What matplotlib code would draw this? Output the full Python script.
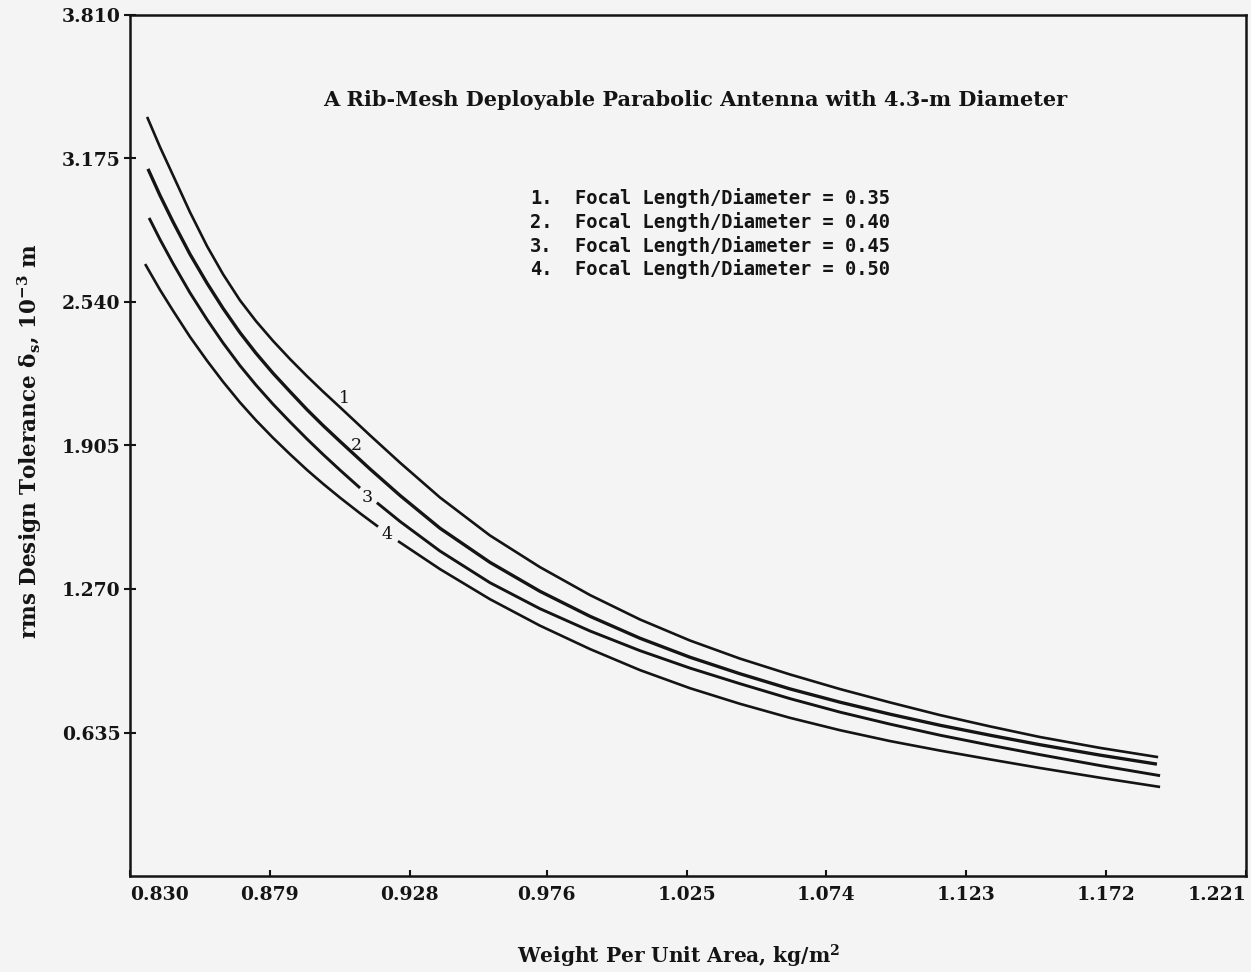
import numpy as np
import matplotlib
matplotlib.use("Agg")
import matplotlib.pyplot as plt

# Valores (x en kg/m^2, y en 10^-3 m)
# np.nan marca el hueco donde va la etiqueta de la curva
x1 = [0.8360, 0.8405, 0.8451, 0.8510, 0.8570, 0.8626, 0.8685, 0.8741, 0.8801, 0.8861,
      0.8920, 0.8976, 0.9036, 0.9141, 0.9246, 0.9386, 0.9561, 0.9736, 0.9912, 1.0087,
      1.0262, 1.0437, 1.0612, 1.0788, 1.0963, 1.1138, 1.1313, 1.1488, 1.1698, 1.1902]
y1 = [3.359, 3.226, 3.100, 2.938, 2.787, 2.663, 2.548, 2.456, 2.368, 2.287,
      2.212, 2.144, 2.074, 1.950, 1.829, 1.675, 1.507, 1.367, 1.243, 1.135,
      1.042, 0.962, 0.892, 0.827, 0.768, 0.712, 0.662, 0.615, 0.567, 0.526]

x2 = [0.8363, 0.8405, 0.8451, 0.8510, 0.8570, 0.8626, 0.8685, 0.8741, 0.8801, 0.8861,
      0.8920, 0.8976, 0.9036, 0.9141, 0.9246, 0.9386, 0.9561, 0.9736, 0.9912, 1.0087,
      1.0262, 1.0437, 1.0612, 1.0788, 1.0963, 1.1138, 1.1313, 1.1488, 1.1698, 1.1898]
y2 = [3.129, 3.012, 2.894, 2.752, 2.623, 2.512, 2.405, 2.314, 2.225, 2.143,
      2.064, 1.994, 1.923, 1.801, 1.684, 1.539, 1.388, 1.260, 1.149, 1.052,
      0.968, 0.895, 0.828, 0.769, 0.716, 0.667, 0.623, 0.581, 0.535, 0.495]

x3 = [0.8367, 0.8405, 0.8451, 0.8510, 0.8570, 0.8626, 0.8685, 0.8741, 0.8801, 0.8861,
      0.8920, 0.8976, 0.9036, 0.9106, np.nan, 0.9165, 0.9246, 0.9386, 0.9561, 0.9736,
      0.9912, 1.0087, 1.0262, 1.0437, 1.0612, 1.0788, 1.0963, 1.1138, 1.1313, 1.1488,
      1.1698, 1.1909]
y3 = [2.912, 2.817, 2.710, 2.581, 2.462, 2.359, 2.259, 2.173, 2.088, 2.009,
      1.934, 1.866, 1.796, 1.717, np.nan, 1.652, 1.569, 1.438, 1.298, 1.183,
      1.084, 0.997, 0.920, 0.851, 0.785, 0.725, 0.672, 0.623, 0.579, 0.537,
      0.489, 0.444]

x4 = [0.8353, 0.8405, 0.8451, 0.8510, 0.8570, 0.8626, 0.8685, 0.8741, 0.8801, 0.8861,
      0.8920, 0.8976, 0.9036, 0.9106, 0.9169, np.nan, 0.9239, 0.9386, 0.9561, 0.9736,
      0.9912, 1.0087, 1.0262, 1.0437, 1.0612, 1.0788, 1.0963, 1.1138, 1.1313, 1.1488,
      1.1698, 1.1909]
y4 = [2.708, 2.594, 2.501, 2.386, 2.280, 2.187, 2.096, 2.017, 1.939, 1.866,
      1.797, 1.736, 1.674, 1.605, 1.546, np.nan, 1.482, 1.358, 1.225, 1.108,
      1.004, 0.911, 0.831, 0.762, 0.700, 0.645, 0.597, 0.555, 0.516, 0.478,
      0.435, 0.394]

curve_labels = ["1", "2", "3", "4"]
label_x = [0.9053, 0.9092, 0.9130, 0.9200]
label_y = [2.115, 1.903, 1.677, 1.509]

xticks = [0.830, 0.879, 0.928, 0.976, 1.025, 1.074, 1.123, 1.172, 1.221]
xtick_labels = ["0.830", "0.879", "0.928", "0.976", "1.025", "1.074", "1.123", "1.172", "1.221"]
yticks = [0.635, 1.270, 1.905, 2.540, 3.175, 3.810]
ytick_labels = ["0.635", "1.270", "1.905", "2.540", "3.175", "3.810"]

legend_items = ["1.", "2.", "3.", "4."]
legend_texts = ["Focal Length/Diameter = 0.35", "Focal Length/Diameter = 0.40",
                "Focal Length/Diameter = 0.45", "Focal Length/Diameter = 0.50"]

plt.rcParams['font.family'] = ['DejaVu Serif']
plt.rcParams['mathtext.fontset'] = 'dejavuserif'
plt.rcParams['mathtext.default'] = 'bf'

ink = '#141414'
bg = '#f4f4f4'
W, H = 1251, 972

fig = plt.figure(figsize=(W / 100, H / 100), dpi=100, facecolor=bg)
ax = fig.add_axes([130 / W, 1 - 876 / H, 1116 / W, 861 / H], facecolor=bg)

series = [(x1, y1, 1.9), (x2, y2, 2.4), (x3, y3, 2.1), (x4, y4, 1.9)]
for xs, ys, lw in series:
    ax.plot(xs, ys, color=ink, lw=lw, solid_capstyle='butt')

for lab, lx, ly in zip(curve_labels, label_x, label_y):
    ax.text(lx, ly, lab, fontsize=12.5, color=ink, ha='center', va='center')

ax.set_xlim(0.830, 1.221)
ax.set_ylim(0, 3.810)

ax.set_xticks(xticks)
ax.set_xticklabels(xtick_labels, fontsize=13.5, fontweight='bold', color=ink)
xl = ax.get_xticklabels()
xl[0].set_ha('left')
xl[-1].set_ha('right')
ax.set_yticks(yticks)
ax.set_yticklabels(ytick_labels, fontsize=13.5, fontweight='bold', color=ink)

ax.tick_params(axis='x', direction='in', length=4, width=1.5, pad=7, color=ink)
ax.tick_params(axis='y', direction='inout', length=8, width=1.5, pad=3, color=ink)
for sp in ax.spines.values():
    sp.set_linewidth(1.8)
    sp.set_color(ink)

# Título y leyenda en coordenadas de figura
fig.text(323 / W, 1 - 100 / H,
         "A Rib-Mesh Deployable Parabolic Antenna with 4.3-m Diameter",
         fontsize=15, fontweight='bold', color=ink, ha='left', va='center')

rows_y = [198, 222, 246, 269]
for item, txt, ry in zip(legend_items, legend_texts, rows_y):
    fig.text(530 / W, 1 - ry / H, item, fontsize=13.5, family='DejaVu Sans Mono',
             fontweight='bold', color=ink, ha='left', va='center')
    fig.text(575 / W, 1 - ry / H, txt, fontsize=13.5, family='DejaVu Sans Mono',
             fontweight='bold', color=ink, ha='left', va='center')

fig.text(679 / W, 1 - 956 / H, r"Weight Per Unit Area, kg/m$^2$",
         fontsize=14.5, fontweight='bold', color=ink, ha='center', va='center')
fig.text(30 / W, 1 - 441 / H, r"rms Design Tolerance $\delta_s$, $10^{-3}$ m",
         fontsize=15.5, fontweight='bold', color=ink, ha='center', va='center',
         rotation=90)

fig.savefig("out.png", dpi=100, facecolor=bg)
